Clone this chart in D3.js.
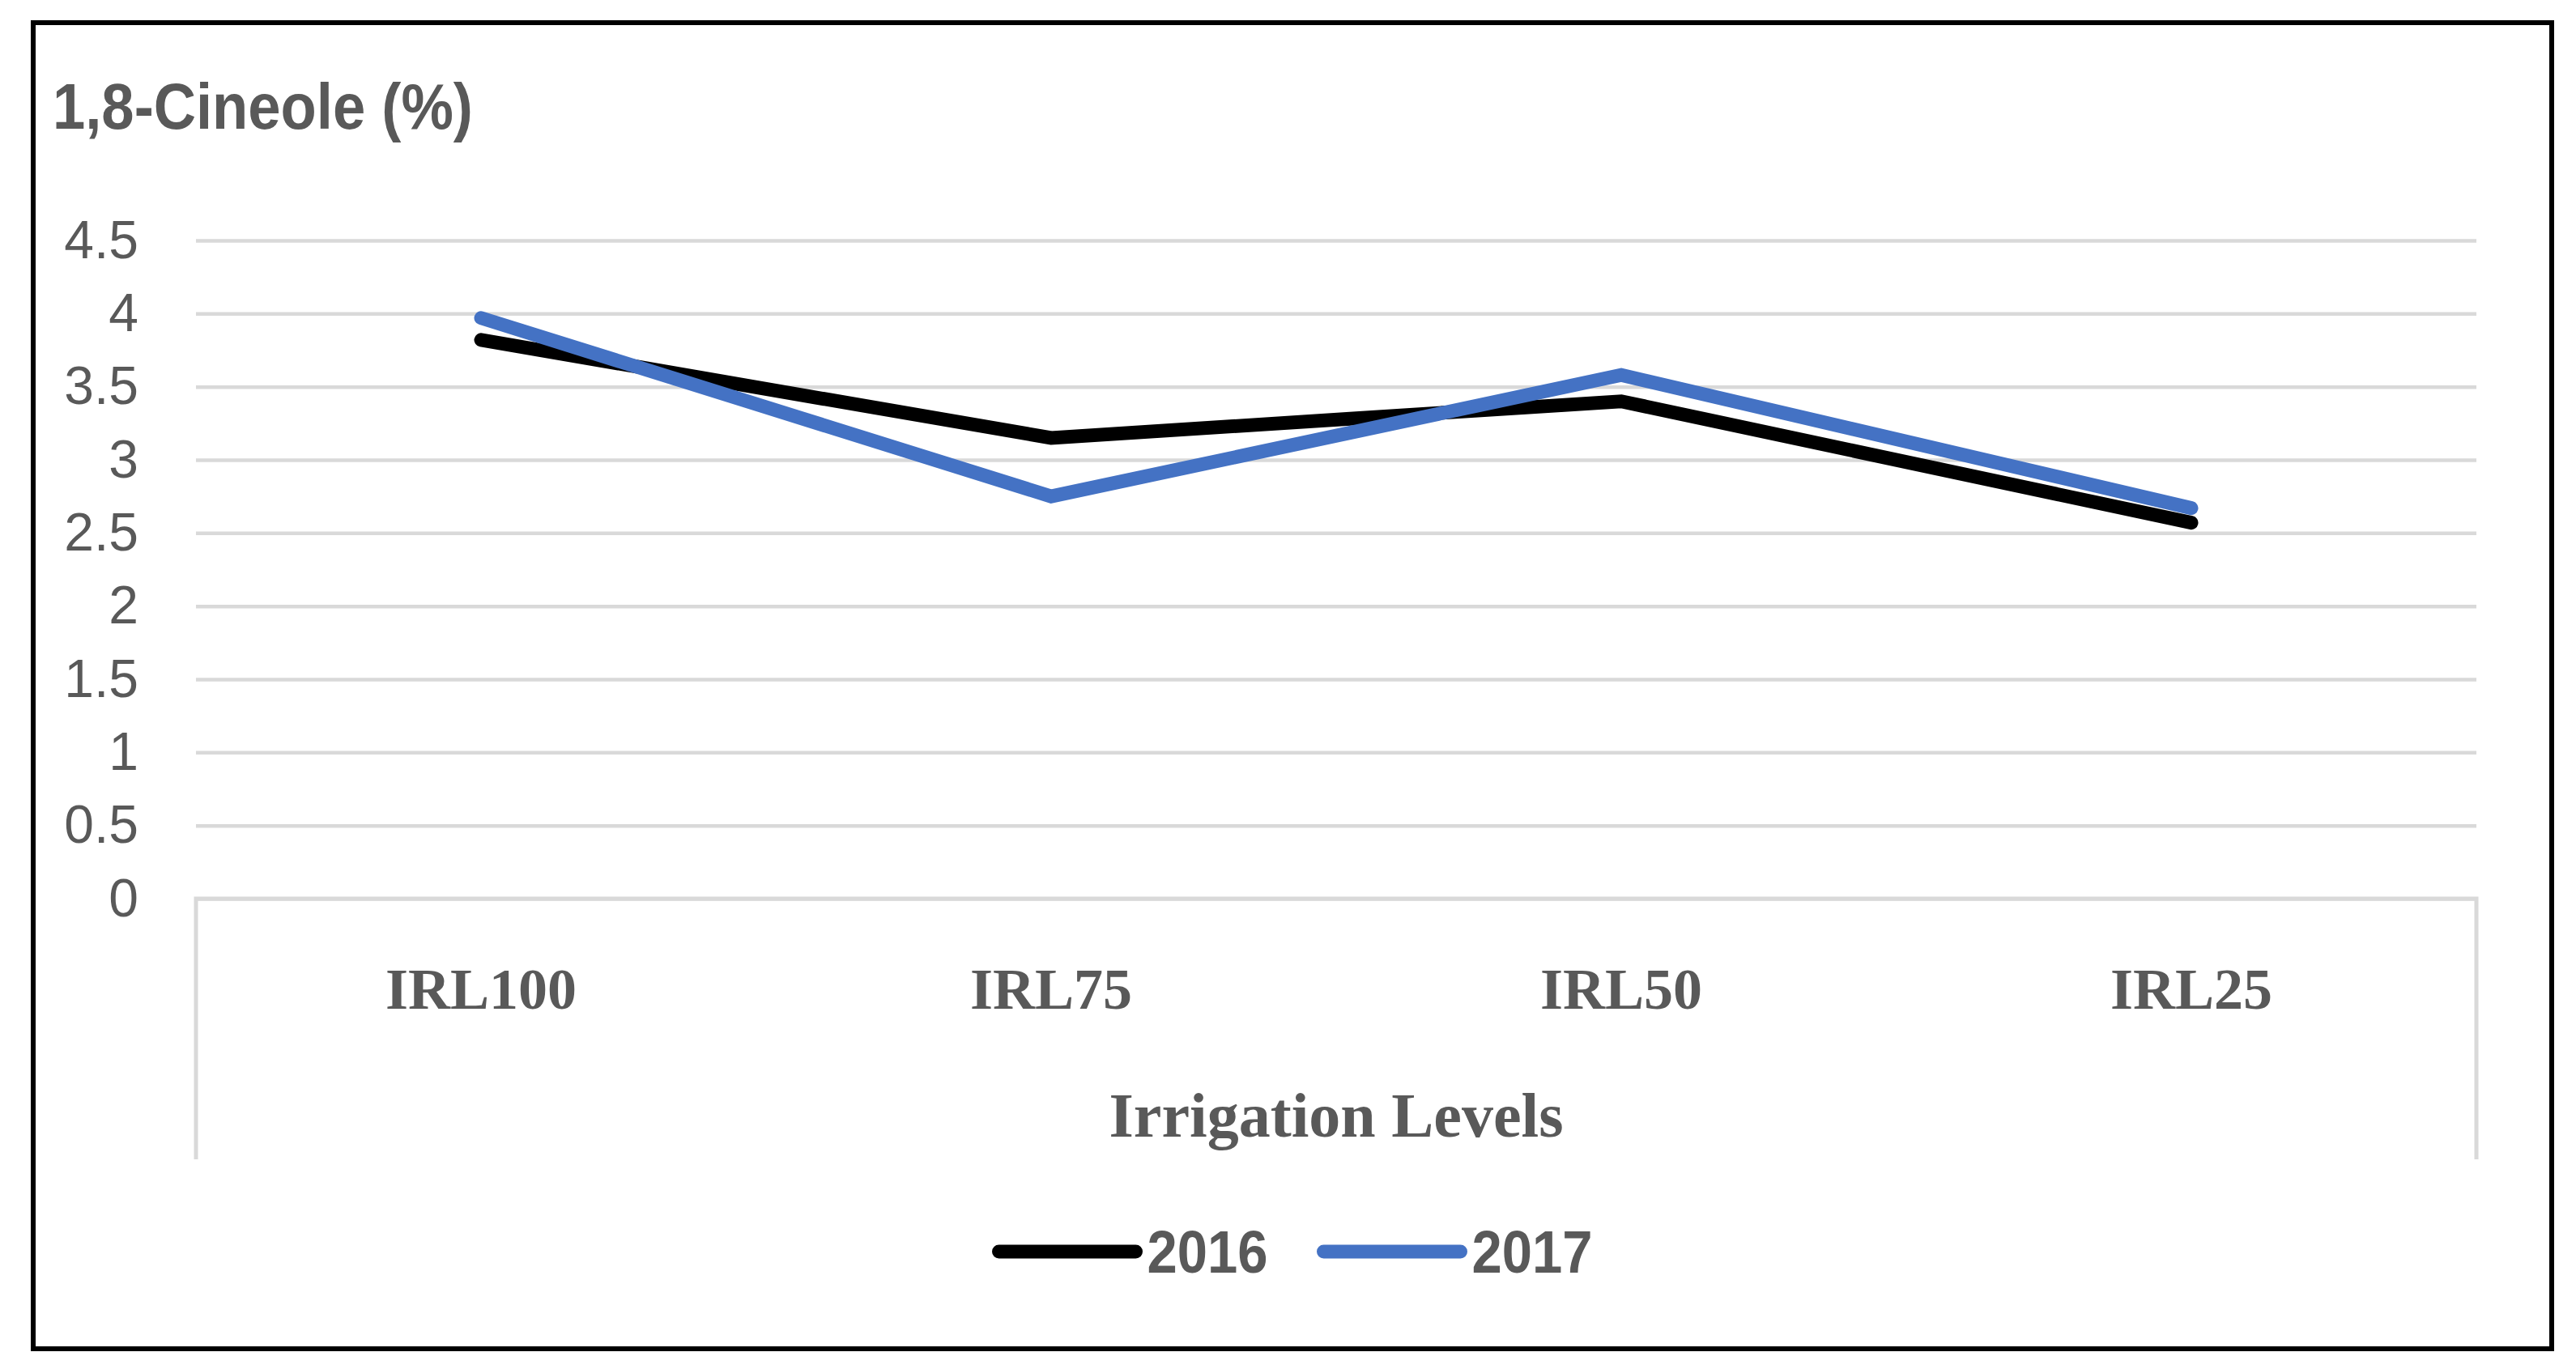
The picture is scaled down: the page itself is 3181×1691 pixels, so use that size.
<!DOCTYPE html>
<html>
<head>
<meta charset="utf-8">
<script src="https://cdn.jsdelivr.net/npm/d3@7"></script>
<style>
	body { margin: 0; background: #fff; }
	svg { display: block; }
</style>
</head>
<body>
<svg id="chart"></svg>
<script>
"use strict";

var categories = ['IRL100', 'IRL75', 'IRL50', 'IRL25'];
var years = ['2016', '2017'];
var values2016 = [3.82, 3.15, 3.40, 2.57];
var values2017 = [3.97, 2.75, 3.58, 2.67];
var yTicks = [0, 0.5, 1, 1.5, 2, 2.5, 3, 3.5, 4, 4.5];
var colors = ['#000000', '#4472c4'];

var W = 3181, H = 1691;
var plot = {left: 242, right: 3058, top: 297, bottom: 1110};
var grey = '#595959';
var sans = '"Liberation Sans", Arial, sans-serif';
var serif = '"Liberation Serif", serif';
var squeeze = 0.905; // calibri is narrower than arial

var svg = d3.select('#chart').attr('width', W).attr('height', H);

// outer frame
svg.append('rect')
	.attr('x', 41).attr('y', 28)
	.attr('width', 3110).attr('height', 1638)
	.attr('fill', 'none').attr('stroke', '#000').attr('stroke-width', 6);

var x = d3.scaleBand().domain(categories).range([plot.left, plot.right]);
var y = d3.scaleLinear().domain([0, 4.5]).range([plot.bottom, plot.top]);

// y axis with gridlines
var yAxis = svg.append('g')
	.attr('transform', 'translate(' + plot.left + ',0)')
	.call(d3.axisLeft(y).tickValues(yTicks).tickFormat(d3.format('')).tickSizeInner(-(plot.right - plot.left)).tickSizeOuter(0).tickPadding(71));
yAxis.select('.domain').remove();
yAxis.selectAll('line').attr('stroke', '#d9d9d9').attr('stroke-width', 4.5);
yAxis.selectAll('text')
	.attr('fill', grey)
	.style('font-family', sans)
	.style('font-size', '66px');

// category axis box (bottom line + two side lines)
var boxBottom = 1432;
svg.append('path')
	.attr('d', 'M' + plot.left + ',' + boxBottom + 'V' + plot.bottom + 'H' + plot.right + 'V' + boxBottom)
	.attr('fill', 'none').attr('stroke', '#d9d9d9').attr('stroke-width', 5);

var xAxis = svg.append('g')
	.attr('transform', 'translate(0,' + plot.bottom + ')')
	.call(d3.axisBottom(x).tickSize(0).tickPadding(0));
xAxis.select('.domain').remove();
xAxis.selectAll('text')
	.attr('y', 136).attr('dy', 0)
	.attr('fill', grey)
	.style('font-family', serif)
	.style('font-weight', 'bold')
	.style('font-size', '72px');

svg.append('text')
	.attr('x', (plot.left + plot.right) / 2).attr('y', 1404)
	.attr('text-anchor', 'middle')
	.attr('fill', grey)
	.style('font-family', serif)
	.style('font-weight', 'bold')
	.style('font-size', '78px')
	.text('Irrigation Levels');

// title
svg.append('text')
	.attr('transform', 'translate(65,159) scale(' + squeeze + ',1)')
	.attr('fill', grey)
	.style('font-family', sans)
	.style('font-weight', 'bold')
	.style('font-size', '80px')
	.text('1,8-Cineole (%)');

// lines
var series = [values2016, values2017];
var line = d3.line()
	.x(function(d, i){ return x(categories[i]) + x.bandwidth() / 2; })
	.y(function(d){ return y(d); });

svg.append('g').selectAll('path')
	.data(series)
	.enter().append('path')
	.attr('d', line)
	.attr('fill', 'none')
	.attr('stroke', function(d, i){ return colors[i]; })
	.attr('stroke-width', 17)
	.attr('stroke-linecap', 'round')
	.attr('stroke-linejoin', 'miter');

// legend
var legend = svg.append('g');
var lineLen = 169, textGap = 14, itemGap = 69, legendY = 1546;
var items = legend.selectAll('g')
	.data(years)
	.enter().append('g');
items.append('line')
	.attr('x1', 0).attr('x2', lineLen)
	.attr('y1', 0).attr('y2', 0)
	.attr('stroke', function(d, i){ return colors[i]; })
	.attr('stroke-width', 17)
	.attr('stroke-linecap', 'round');
items.append('text')
	.attr('transform', 'translate(' + (lineLen + textGap) + ',26) scale(' + squeeze + ',1)')
	.attr('fill', grey)
	.style('font-family', sans)
	.style('font-weight', 'bold')
	.style('font-size', '74px')
	.text(function(d){ return d; });

var widths = [];
items.each(function(){ widths.push(lineLen + textGap + squeeze * d3.select(this).select('text').node().getComputedTextLength()); });
var total = d3.sum(widths) + itemGap * (widths.length - 1);
var pos = 1600 - total / 2;
items.attr('transform', function(d, i){
	var t = 'translate(' + pos + ',' + legendY + ')';
	pos += widths[i] + itemGap;
	return t;
});
</script>
</body>
</html>
